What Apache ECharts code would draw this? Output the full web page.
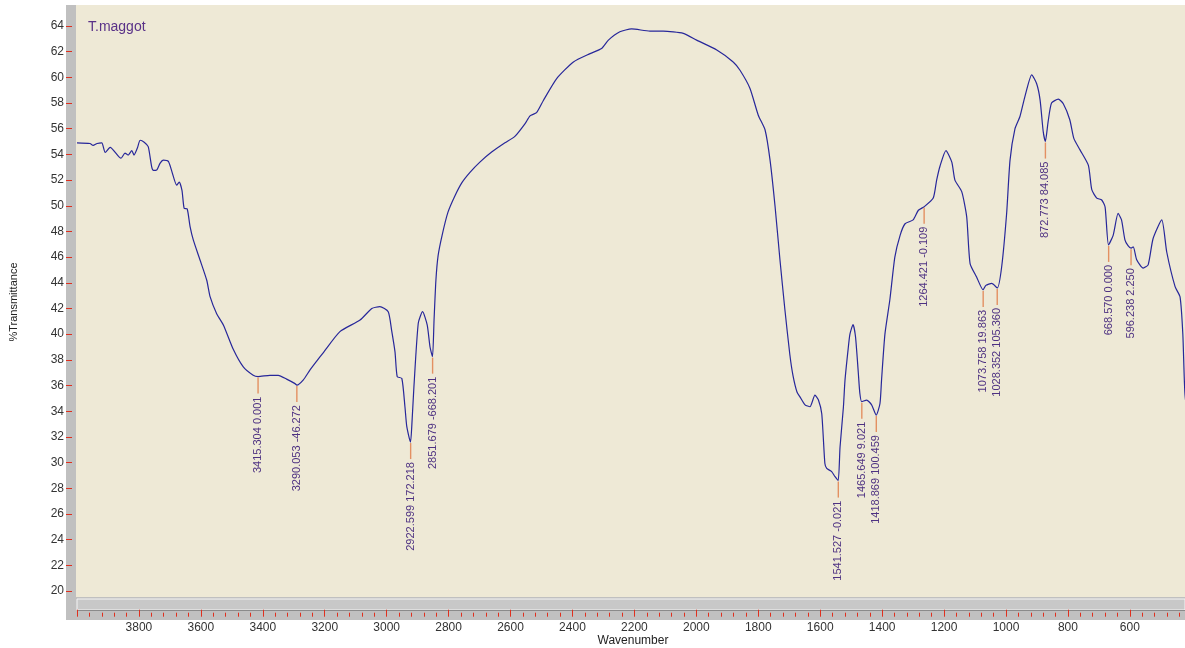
<!DOCTYPE html>
<html>
<head>
<meta charset="utf-8">
<title>T.maggot FTIR</title>
<script src="https://cdn.jsdelivr.net/npm/echarts@6/dist/echarts.min.js"></script>
<style>
  html, body { margin: 0; padding: 0; background: #fff; }
  #chart { width: 1185px; height: 648px; }
</style>
</head>
<body>
<div id="chart"></div>
<script>
// spectrum (wavenumber cm-1 / %T)
const wavenumber = [
  4000, 3958, 3948, 3935, 3920, 3909, 3893, 3858, 3845, 3835,
  3823, 3816, 3805, 3796, 3783, 3770, 3759, 3753, 3742, 3732,
  3721, 3705, 3694, 3678, 3670, 3661, 3654, 3644, 3635, 3624,
  3603, 3581, 3570, 3549, 3527, 3495, 3463, 3431, 3415, 3377,
  3350, 3323, 3296, 3290, 3269, 3248, 3226, 3205, 3151, 3086,
  3048, 3022, 2995, 2984, 2973, 2966, 2951, 2941, 2935, 2923,
  2919, 2912, 2898, 2884, 2869, 2860, 2852, 2847, 2841, 2834,
  2821, 2802, 2779, 2757, 2731, 2699, 2660, 2618, 2586, 2553,
  2537, 2516, 2494, 2451, 2397, 2343, 2306, 2284, 2247, 2209,
  2150, 2107, 2042, 1999, 1934, 1881, 1859, 1827, 1800, 1778,
  1762, 1746, 1730, 1714, 1698, 1688, 1675, 1665, 1649, 1633,
  1617, 1606, 1595, 1585, 1579, 1563, 1552, 1542, 1536, 1525,
  1520, 1510, 1504, 1494, 1486, 1477, 1472, 1466, 1450, 1434,
  1419, 1407, 1402, 1391, 1375, 1359, 1342, 1326, 1300, 1283,
  1264, 1235, 1224, 1213, 1194, 1175, 1165, 1143, 1127, 1116,
  1095, 1074, 1065, 1046, 1028, 1014, 998, 987, 971, 955,
  939, 917, 901, 890, 880, 873, 864, 853, 831, 815,
  794, 781, 761, 734, 723, 707, 691, 680, 669, 654,
  638, 627, 616, 606, 596, 589, 578, 557, 541, 525,
  497, 481, 454, 438, 429, 422, 405
];
const transmittance = [
  54.9, 54.85, 54.7, 54.85, 54.9, 54.15, 54.55, 53.7, 54.1, 53.95,
  54.3, 53.95, 54.5, 55.1, 54.95, 54.6, 53.05, 52.75, 52.8, 53.3,
  53.55, 53.45, 52.7, 51.6, 51.85, 51.2, 49.8, 49.75, 48.4, 47.3,
  45.8, 44.2, 42.9, 41.6, 40.7, 38.8, 37.45, 36.8, 36.7, 36.8,
  36.8, 36.5, 36.15, 36.04, 36.45, 37.2, 37.9, 38.55, 40.2, 41.1,
  42.0, 42.14, 41.75, 40.3, 38.6, 36.7, 36.55, 34.35, 32.8, 31.6,
  32.8, 35.9, 40.85, 41.75, 40.7, 39.0, 38.25, 41.1, 44.2, 46.1,
  47.7, 49.5, 50.8, 51.8, 52.6, 53.4, 54.2, 54.9, 55.4, 56.4,
  57.0, 57.25, 58.2, 59.9, 61.2, 61.85, 62.25, 62.9, 63.55, 63.77,
  63.6, 63.6, 63.43, 62.9, 62.13, 61.2, 60.55, 59.15, 57.05, 55.9,
  53.55, 50.0, 45.8, 41.9, 38.4, 36.8, 35.5, 35.1, 34.5, 34.35,
  35.25, 34.9, 33.8, 29.95, 29.55, 29.3, 28.9, 28.6, 31.2, 34.35,
  36.4, 38.8, 40.0, 40.75, 39.8, 37.0, 35.4, 34.74, 34.87, 34.5,
  33.7, 34.6, 36.4, 40.0, 42.7, 46.0, 47.7, 48.6, 48.9, 49.65,
  49.93, 50.6, 52.0, 53.1, 54.3, 53.4, 52.0, 51.1, 49.15, 45.5,
  44.45, 43.45, 43.8, 43.95, 43.6, 45.25, 49.4, 53.55, 56.0, 56.95,
  58.5, 60.2, 59.5, 58.25, 55.8, 55.0, 56.55, 58.0, 58.3, 57.95,
  56.7, 55.25, 54.35, 53.15, 51.25, 50.6, 50.45, 49.9, 46.95, 47.7,
  49.4, 48.9, 47.35, 46.9, 46.7, 46.8, 45.8, 45.15, 45.4, 47.45,
  48.9, 46.4, 43.7, 42.9, 40.0, 35.3, 32.0
];

// picked peaks
const peakWn = [3415.304, 3290.053, 2922.599, 2851.679, 1541.527, 1465.649, 1418.869,
  1264.421, 1073.758, 1028.352, 872.773, 668.570, 596.238];
const peakT = [36.7, 36.04, 31.6, 38.25, 28.6, 34.74, 33.7, 49.93, 43.45, 43.6, 55.0, 46.95, 46.7];
const peakInt = ['0.001', '-46.272', '172.218', '-668.201', '-0.021', '9.021', '100.459',
  '-0.109', '19.863', '105.360', '84.085', '0.000', '2.250'];

const yTicks = [20, 22, 24, 26, 28, 30, 32, 34, 36, 38, 40, 42, 44, 46, 48, 50, 52, 54, 56, 58, 60, 62, 64];
const xLabels = [3800, 3600, 3400, 3200, 3000, 2800, 2600, 2400, 2200, 2000, 1800, 1600, 1400, 1200, 1000, 800, 600];
const xMajor = [4000].concat(xLabels);
// minor ticks every 40 between the majors
const xMinor = [];
for (let w = 3960; w >= 440; w -= 40) {
  if (w % 200 !== 0) xMinor.push(w);
}

const FONT = '"Liberation Sans", Arial, sans-serif';
const RED = '#e0301e';

const chart = echarts.init(document.getElementById('chart'));

const option = {
  animation: false,
  grid: { left: 77, top: 0.3, right: 0, height: 616.4, containLabel: false },
  xAxis: [
    {
      type: 'value',
      inverse: true,
      min: 422,
      max: 4000,
      z: 60,
      axisLine: { show: false },
      axisTick: { show: true, inside: true, length: 7, customValues: xMajor, lineStyle: { color: RED, width: 1 } },
      splitLine: { show: false },
      axisLabel: {
        customValues: xLabels,
        formatter: v => String(v),
        margin: 5,
        color: '#333',
        fontSize: 12,
        fontFamily: FONT
      }
    },
    {
      type: 'value',
      inverse: true,
      min: 422,
      max: 4000,
      position: 'bottom',
      z: 60,
      axisLine: { show: false },
      axisTick: { show: true, inside: true, length: 4, customValues: xMinor, lineStyle: { color: RED, width: 1 } },
      splitLine: { show: false },
      axisLabel: { show: false }
    }
  ],
  yAxis: {
    type: 'value',
    min: 18,
    max: 66,
    offset: 5,
    z: 60,
    axisLine: { show: false },
    axisTick: { show: true, length: 6, customValues: yTicks, lineStyle: { color: RED, width: 1 } },
    splitLine: { show: false },
    axisLabel: {
      customValues: yTicks,
      margin: 8,
      color: '#333',
      fontSize: 12,
      fontFamily: FONT
    }
  },
  graphic: [
    // plot background
    { type: 'rect', z: 0, shape: { x: 76, y: 5, width: 1109, height: 592 }, style: { fill: '#eee9d6' } },
    // frame of the spectrum window
    { type: 'rect', z: 50, shape: { x: 66, y: 5, width: 10, height: 615 }, style: { fill: '#c0c0c0' } },
    { type: 'rect', z: 50, shape: { x: 66, y: 597, width: 1119, height: 23 }, style: { fill: '#c0c0c0' } },
    { type: 'rect', z: 51, shape: { x: 77, y: 599, width: 1108, height: 11 }, style: { fill: '#c8c8c8', stroke: '#f4f4f4', lineWidth: 1 } },
    { type: 'line', z: 52, shape: { x1: 77, y1: 610.5, x2: 1185, y2: 610.5 }, style: { stroke: '#8a8a8a', lineWidth: 1 } },
    {
      type: 'text', z: 55, x: 88, y: 27,
      style: { text: 'T.maggot', fill: '#5a3288', font: '14px ' + FONT, verticalAlign: 'middle' }
    },
    {
      type: 'text', z: 55, x: 14, y: 302, rotation: Math.PI / 2,
      style: { text: '%Transmittance', fill: '#222', font: '11px ' + FONT, align: 'center', verticalAlign: 'middle' }
    },
    {
      type: 'text', z: 55, x: 633, y: 641,
      style: { text: 'Wavenumber', fill: '#222', font: '12px ' + FONT, align: 'center', verticalAlign: 'middle' }
    }
  ],
  series: [
    {
      type: 'line',
      z: 3,
      data: wavenumber.map((w, i) => [w, transmittance[i]]),
      showSymbol: false,
      smooth: 0.2,
      lineStyle: { color: '#27279a', width: 1.2 },
      silent: true
    },
    {
      type: 'custom',
      z: 4,
      silent: true,
      data: peakWn.map((w, i) => [w, peakT[i]]),
      renderItem: function (params, api) {
        const p = api.coord([api.value(0), api.value(1)]);
        const i = params.dataIndex;
        const label = peakWn[i].toFixed(3) + ' ' + peakInt[i];
        return {
          type: 'group',
          children: [
            {
              type: 'line',
              shape: { x1: p[0], y1: p[1] + 1, x2: p[0], y2: p[1] + 17 },
              style: { stroke: '#e39062', lineWidth: 1.4 }
            },
            {
              type: 'text',
              x: p[0],
              y: p[1] + 20,
              rotation: Math.PI / 2,
              style: {
                text: label,
                fill: '#4e3282',
                font: '11px ' + FONT,
                align: 'right',
                verticalAlign: 'middle'
              }
            }
          ]
        };
      }
    }
  ]
};

chart.setOption(option);
</script>
</body>
</html>
